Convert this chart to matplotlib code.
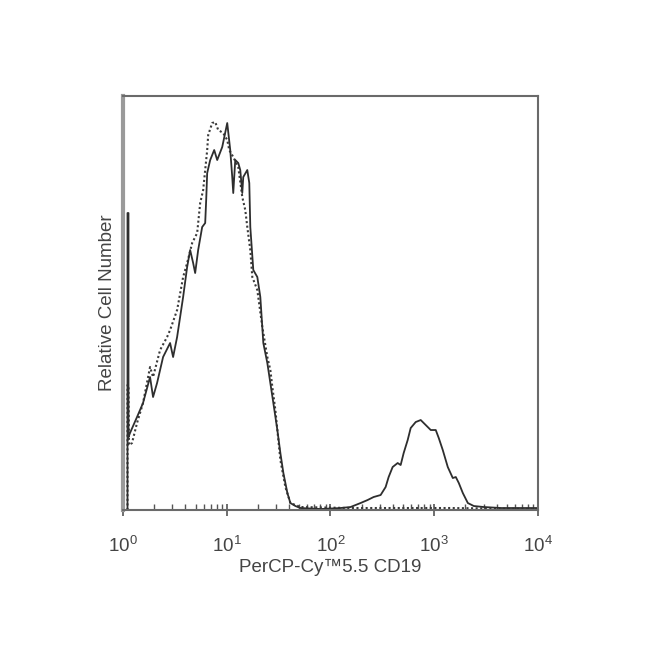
# Flow histogram: PerCP-Cy5.5 CD19, stained vs control
import numpy as np
import matplotlib.pyplot as plt
from matplotlib.ticker import LogLocator, NullFormatter

plt.rcParams['font.family'] = ['Liberation Sans', 'DejaVu Sans']

# stained sample (solid), x as log10 intensity, y as relative count
solid_log = [0.0435, 0.0435, 0.0531, 0.0531, 0.0676, 0.1353, 0.1932, 0.2609, 0.2899, 0.3285,
             0.3865, 0.4541, 0.4831, 0.5217, 0.5797, 0.6184, 0.6473, 0.6763, 0.6957, 0.7246,
             0.7633, 0.7923, 0.8019, 0.8116, 0.8406, 0.8792, 0.9082, 0.9565, 1.0048, 1.0338,
             1.0531, 1.0628, 1.0821, 1.1111, 1.1304, 1.1498, 1.1594, 1.1981, 1.2174, 1.2271,
             1.2560, 1.2947, 1.3237, 1.3527, 1.3913, 1.4203, 1.4493, 1.4879, 1.5169, 1.5459,
             1.5845, 1.6135, 1.6618, 1.7101, 1.9034, 2.0966, 2.1932, 2.2899, 2.3575, 2.4155,
             2.4831, 2.5314, 2.5604, 2.5990, 2.6473, 2.6763, 2.7053, 2.7440, 2.7729, 2.8213,
             2.8696, 2.9179, 2.9662, 3.0145, 3.0435, 3.0821, 3.1304, 3.1787, 3.2077, 3.2367,
             3.2754, 3.3237, 3.3816, 3.4783, 3.6425, 3.9990]
solid_cnt = [0, 297, 297, 73, 77, 93, 107, 133, 113, 127,
             153, 167, 153, 173, 213, 243, 260, 247, 237, 260,
             283, 287, 310, 337, 350, 360, 350, 363, 387, 360,
             333, 317, 350, 347, 340, 317, 333, 340, 327, 283,
             240, 233, 213, 167, 147, 127, 107, 80, 57, 37,
             17, 7, 4, 2, 1, 2, 3, 7, 10, 13,
             15, 23, 33, 43, 47, 45, 57, 70, 82, 88,
             90, 85, 80, 80, 72, 60, 43, 32, 33, 27,
             17, 7, 4, 3, 2, 2]

# isotype control (dotted)
ctrl_log = [0.0435, 0.0435, 0.0531, 0.058, 0.087, 0.1353, 0.1932, 0.2609, 0.2899, 0.3575,
            0.4251, 0.4541, 0.5217, 0.5797, 0.6184, 0.6667, 0.7150, 0.7440, 0.7729, 0.8116,
            0.8213, 0.8599, 0.8889, 0.9179, 0.9662, 1.0048, 1.0242, 1.0628, 1.1111, 1.1498,
            1.1787, 1.1981, 1.2271, 1.2464, 1.2947, 1.3430, 1.3913, 1.4203, 1.4396, 1.4686,
            1.4879, 1.5169, 1.5652, 1.6135, 1.7101, 2.1932, 2.6763, 3.1594, 3.999]
ctrl_cnt = [0, 125, 125, 65, 67, 87, 107, 143, 133, 160,
            173, 180, 200, 233, 247, 267, 277, 307, 320, 360,
            375, 387, 388, 380, 377, 370, 360, 353, 343, 313,
            300, 283, 260, 233, 220, 183, 153, 140, 123, 100,
            80, 50, 23, 7, 3, 2, 2, 2, 1]

tick_vals = [1, 10, 100, 1000, 10000]
tick_labels = [r'$\mathregular{10^0}$', r'$\mathregular{10^1}$', r'$\mathregular{10^2}$',
               r'$\mathregular{10^3}$', r'$\mathregular{10^4}$']

fig = plt.figure(figsize=(6.5, 6.71), dpi=100)
ax = fig.add_axes([0.1892, 0.2399, 0.6385, 0.617])

ax.plot(10 ** np.array(ctrl_log), ctrl_cnt, color='#3a3a3a', lw=1.5,
        linestyle=(0, (1, 1.2)))
ax.plot(10 ** np.array(solid_log), solid_cnt, color='#2e2e2e', lw=1.3)

ax.set_xscale('log')
ax.set_xlim(1, 10000)
ax.set_ylim(0, 414)
ax.set_yticks([])
ax.set_xticks(tick_vals)
ax.set_xticklabels(tick_labels, fontsize=13.5, color='#444444')
ax.xaxis.set_minor_locator(LogLocator(base=10, subs=np.arange(2, 10)))
ax.xaxis.set_minor_formatter(NullFormatter())
ax.tick_params(axis='x', which='major', direction='inout', length=9, width=1.2,
               color='#555555', pad=14)
ax.tick_params(axis='x', which='minor', direction='in', length=4.5, width=1.0,
               color='#555555')

for side in ['top', 'right', 'bottom']:
    ax.spines[side].set_color('#6a6a6a')
    ax.spines[side].set_linewidth(1.5)
ax.spines['left'].set_color('#9a9a9a')
ax.spines['left'].set_linewidth(3)

ax.set_xlabel('PerCP-Cy™5.5 CD19', fontsize=13.5, color='#444444', labelpad=2)
ax.set_ylabel('Relative Cell Number', fontsize=13.5, color='#444444', labelpad=5)

plt.savefig('out.png', dpi=100)
